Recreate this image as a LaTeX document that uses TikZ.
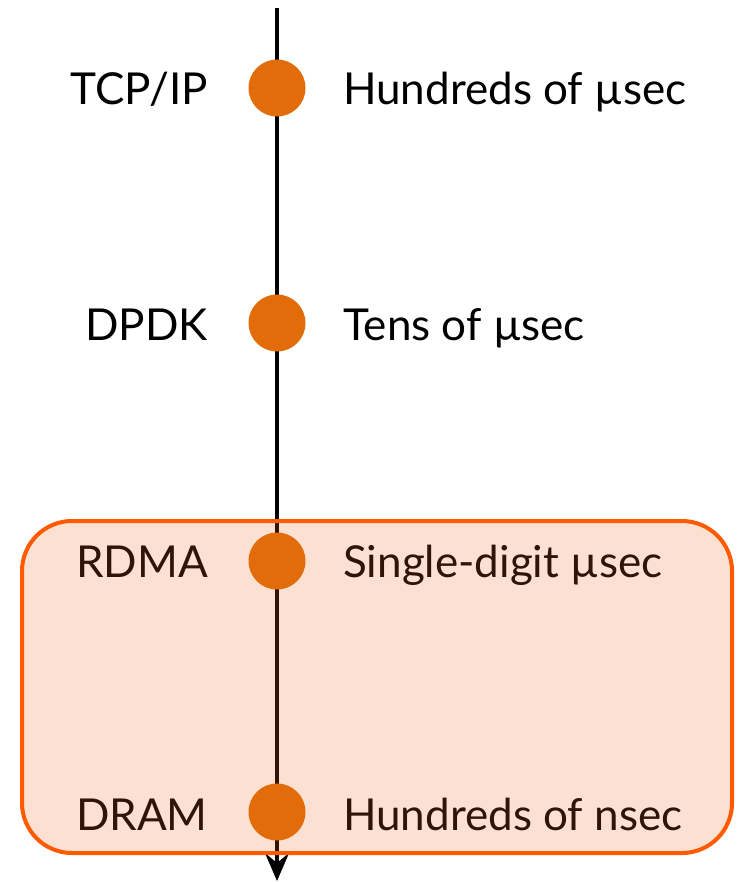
\documentclass[tikz,border=0pt]{standalone}
\usepackage{fontspec}
\setmainfont{Lato}
\usetikzlibrary{arrows.meta}
\definecolor{dotorange}{RGB}{227,108,10}
\definecolor{boxline}{RGB}{255,90,0}
\definecolor{boxfill}{RGB}{240,100,30}
\begin{document}
\begin{tikzpicture}[x=1pt,y=-1pt,
  dot/.style={circle,fill=dotorange,minimum size=57pt,inner sep=0pt},
  lefttxt/.style={anchor=base east,inner sep=0pt,font=\fontsize{44}{50}\selectfont},
  righttxt/.style={anchor=base west,inner sep=0pt,font=\fontsize{44}{50}\selectfont}]
\useasboundingbox (0,0) rectangle (742,882);
\coordinate (top) at (277,8);
\coordinate (bot) at (277,881);
\draw[line width=3.5pt,-{Stealth[length=28pt,width=24pt,inset=10pt]}] (top) -- (bot);
\node[lefttxt] (l1) at (208,105) {TCP/IP};
\node[righttxt] (r1) at (343,105) {Hundreds of µsec};
\node[lefttxt] (l2) at (208,340) {DPDK};
\node[righttxt] (r2) at (343,340) {Tens of µsec};
\node[lefttxt] (l3) at (208,577) {RDMA};
\node[righttxt] (r3) at (343,577) {Single-digit µsec};
\node[lefttxt] (l4) at (208,830) {DRAM};
\node[righttxt] (r4) at (343,830) {Hundreds of nsec};
\node[draw=boxline,line width=4pt,fill=boxfill,fill opacity=0.2,draw opacity=1,
  rounded corners=50pt,minimum width=710pt,minimum height=332pt,inner sep=0pt] (box) at (377,687) {};
\node[dot] (d1) at (277,88) {};
\node[dot] (d2) at (277,323) {};
\node[dot] (d3) at (277,561) {};
\node[dot] (d4) at (277,812) {};
\end{tikzpicture}
\end{document}
